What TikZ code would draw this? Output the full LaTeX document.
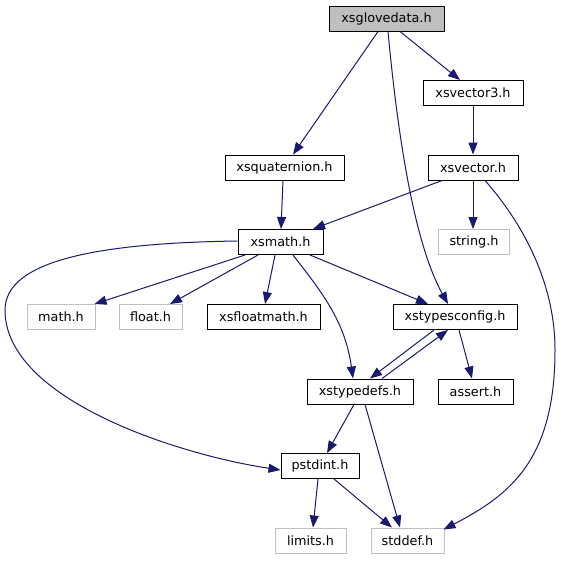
\documentclass[tikz,border=0pt]{standalone}
\usepackage{fontspec}
\setmainfont{DejaVu Sans}
\usetikzlibrary{arrows.meta}
\definecolor{edgeblue}{HTML}{191970}
\definecolor{lgray}{HTML}{BFBFBF}
\begin{document}
\begin{tikzpicture}[x=1pt,y=-1pt,
  box/.style={draw=black,line width=1pt,minimum height=25pt,inner sep=0pt,font=\fontsize{12.8}{15}\selectfont},
  sysbox/.style={box,draw=lgray},
  mainbox/.style={box,fill=lgray},
  dep/.style={draw=edgeblue,line width=1pt,-{Triangle[length=12pt,width=9pt]}}]
\useasboundingbox (0,0) rectangle (561,560);
\fill[white] (0,0) rectangle (561,560);
\node[mainbox,minimum width=115pt] (glove) at (386.5,18.5) {xsglovedata.h};
\node[box,minimum width=100pt] (vec3) at (473,93) {xsvector3.h};
\node[box,minimum width=119pt] (quat) at (284.5,167.5) {xsquaternion.h};
\node[box,minimum width=90pt] (vec) at (473,167.5) {xsvector.h};
\node[box,minimum width=85pt] (math) at (280.5,242) {xsmath.h};
\node[sysbox,minimum width=71pt] (string) at (474,242) {string.h};
\node[sysbox,minimum width=68pt] (mathh) at (61,317) {math.h};
\node[sysbox,minimum width=63pt] (float) at (150.5,317) {float.h};
\node[box,minimum width=113pt] (fmath) at (263.5,317) {xsfloatmath.h};
\node[box,minimum width=124pt] (tconf) at (455,317) {xstypesconfig.h};
\node[box,minimum width=106pt] (tdefs) at (360,391.5) {xstypedefs.h};
\node[box,minimum width=75pt] (assert) at (475.5,391.5) {assert.h};
\node[box,minimum width=78pt] (pst) at (320,466) {pstdint.h};
\node[sysbox,minimum width=71pt] (limits) at (310.5,540.5) {limits.h};
\node[sysbox,minimum width=73pt] (stddef) at (407.5,540.5) {stddef.h};

\draw[dep] ([xshift=-8.5pt]glove.south) -- ([xshift=8.5pt]quat.north);
\draw[dep] ([xshift=13.5pt]glove.south) -- ([xshift=-13pt]vec3.north);
\draw[dep] ([xshift=1.5pt]glove.south) .. controls (400,160) and (418,250) .. ([xshift=-7pt]tconf.north);
\draw[dep] (vec3.south) -- (vec.north);
\draw[dep] ([xshift=-1.5pt]quat.south) -- ([xshift=0.5pt]math.north);
\draw[dep] ([xshift=-31pt]vec.south) -- ([xshift=32.5pt]math.north);
\draw[dep] (vec.south) -- ([xshift=-1pt]string.north);
\draw[dep] ([xshift=12pt]vec.south) .. controls (520,220) and (555,280) .. (555,350) .. controls (555,460) and (510,495) .. ([xshift=-1pt,yshift=-2pt]stddef.north east);
\draw[dep] ([xshift=-35.5pt]math.south) -- ([xshift=-1pt]mathh.north east);
\draw[dep] ([xshift=-22.5pt]math.south) -- ([xshift=19.5pt]float.north);
\draw[dep] ([xshift=-5.5pt]math.south) -- ([xshift=1.5pt]fmath.north);
\draw[dep] ([xshift=29.5pt]math.south) -- ([xshift=-27pt]tconf.north);
\draw[dep] ([xshift=12.5pt]math.south) .. controls (320,290) and (345,320) .. ([xshift=-7pt]tdefs.north);
\draw[dep] ([yshift=1pt]math.west) .. controls (100,243) and (5,260) .. (5,310) .. controls (5,400) and (180,455) .. ([yshift=-4pt]pst.west);
\draw[dep] ([xshift=-21pt]tconf.south) -- ([xshift=10pt]tdefs.north);
\draw[dep] ([xshift=22pt]tdefs.north) -- ([xshift=-7pt]tconf.south);
\draw[dep] ([xshift=4pt]tconf.south) -- ([xshift=-3.5pt]assert.north);
\draw[dep] ([xshift=-6pt]tdefs.south) -- ([xshift=7pt]pst.north);
\draw[dep] ([xshift=5pt]tdefs.south) -- ([xshift=-7.5pt]stddef.north);
\draw[dep] ([xshift=-2pt]pst.south) -- ([xshift=2.5pt]limits.north);
\draw[dep] ([xshift=14pt]pst.south) -- ([xshift=-15.5pt]stddef.north);
\end{tikzpicture}
\end{document}
